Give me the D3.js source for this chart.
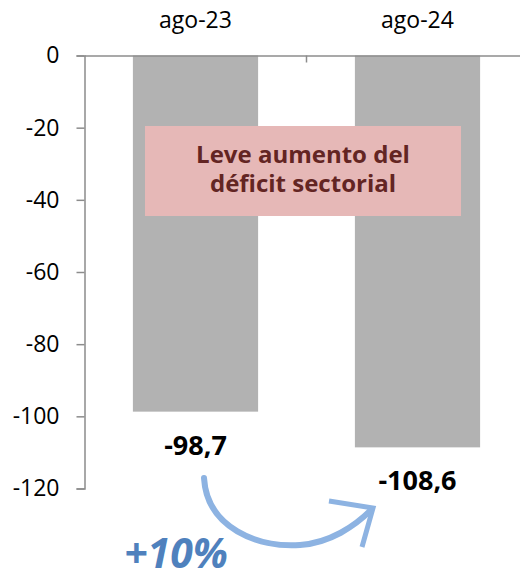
<!DOCTYPE html>
<html>
<head>
<meta charset="utf-8">
<script src="https://cdn.jsdelivr.net/npm/d3@7"></script>
<style>
  body { margin: 0; background: #fff; }
  text { font-family: "Open Sans", sans-serif; }
</style>
</head>
<body>
<script>
// chart data
var categories = ["ago-23", "ago-24"];
var values = [-98.7, -108.6];
var valueLabels = ["-98,7", "-108,6"];
var yTicks = [0, -20, -40, -60, -80, -100, -120];
var noteLines = ["Leve aumento del", "déficit sectorial"];
var changeLabel = "+10%";

var width = 520, height = 573;

var x = d3.scaleBand()
    .domain(categories)
    .range([84.5, 528.5])
    .paddingInner(0.436)
    .paddingOuter(0.218);

var xCat = d3.scaleBand().domain(categories).range([84.5, 528.5]);

var y = d3.scaleLinear().domain([0, -120]).range([55.5, 488.5]);

var svg = d3.select("body").append("svg")
    .attr("width", width)
    .attr("height", height);

// bars
svg.selectAll(".bar")
    .data(values)
    .enter()
  .append("rect")
    .attr("class", "bar")
    .attr("x", function(d, i) { return x(categories[i]); })
    .attr("y", y(0))
    .attr("width", x.bandwidth())
    .attr("height", function(d) { return y(d) - y(0); })
    .style("fill", "#b2b2b2");

// y axis
var yAxis = d3.axisLeft(y)
    .tickValues(yTicks)
    .tickSize(8)
    .tickPadding(17)
    .tickFormat(d3.format("d"));

var gy = svg.append("g")
    .attr("transform", "translate(84.5,0)")
    .call(yAxis);
gy.select(".domain").attr("stroke", "#8c8c8c").attr("stroke-width", 1.5);
gy.selectAll(".tick line").attr("stroke", "#8c8c8c").attr("stroke-width", 1.5);
gy.selectAll(".tick text")
    .style("font-size", "23px")
    .attr("fill", "#000")
    .text(function(d) { return String(d); });

// zero line with category ticks
var xAxis = d3.axisBottom(xCat).tickSize(0).tickFormat("");
var gx = svg.append("g")
    .attr("transform", "translate(0," + y(0) + ")")
    .call(xAxis);
gx.select(".domain").attr("stroke", "#8c8c8c").attr("stroke-width", 1.5);

svg.selectAll(".cat-tick")
    .data(categories.slice(1))
    .enter()
  .append("line")
    .attr("class", "cat-tick")
    .attr("x1", function(d) { return xCat(d); })
    .attr("x2", function(d) { return xCat(d); })
    .attr("y1", y(0))
    .attr("y2", y(0) + 7)
    .attr("stroke", "#8c8c8c")
    .attr("stroke-width", 1.5);

// category labels on top
svg.selectAll(".cat-label")
    .data(categories)
    .enter()
  .append("text")
    .attr("class", "cat-label")
    .attr("x", function(d) { return x(d) + x.bandwidth() / 2; })
    .attr("y", 28)
    .attr("text-anchor", "middle")
    .style("font-size", "23px")
    .text(function(d) { return d; });

// value labels below bars
svg.selectAll(".val-label")
    .data(values)
    .enter()
  .append("text")
    .attr("class", "val-label")
    .attr("x", function(d, i) { return x(categories[i]) + x.bandwidth() / 2; })
    .attr("y", function(d) { return y(d) + 43; })
    .attr("text-anchor", "middle")
    .style("font-size", "27px")
    .style("font-weight", "bold")
    .text(function(d, i) { return valueLabels[i]; });

// note box
svg.append("rect")
    .attr("x", 145)
    .attr("y", 126)
    .attr("width", 316)
    .attr("height", 90)
    .style("fill", "#e6b8b7");

svg.selectAll(".note")
    .data(noteLines)
    .enter()
  .append("text")
    .attr("class", "note")
    .attr("x", 303)
    .attr("y", function(d, i) { return 163 + i * 29; })
    .attr("text-anchor", "middle")
    .style("font-size", "24px")
    .style("font-weight", "bold")
    .attr("fill", "#632523")
    .text(function(d) { return d; });

// curved arrow
svg.append("path")
    .attr("d", "M204,478 C207,528 258,548 300,545 C330,543 355,526 371,510")
    .attr("fill", "none")
    .attr("stroke", "#8db3e2")
    .attr("stroke-width", 6)
    .attr("stroke-linecap", "round");

svg.append("path")
    .attr("d", "M329,501 L373,508 L362,547")
    .attr("fill", "none")
    .attr("stroke", "#8db3e2")
    .attr("stroke-width", 5)
    .attr("stroke-linejoin", "miter");

svg.append("text")
    .attr("x", 176)
    .attr("y", 568)
    .attr("text-anchor", "middle")
    .style("font-size", "41px")
    .style("font-weight", "bold")
    .style("font-style", "italic")
    .attr("fill", "#4f81bd")
    .text(changeLabel);
</script>
</body>
</html>
